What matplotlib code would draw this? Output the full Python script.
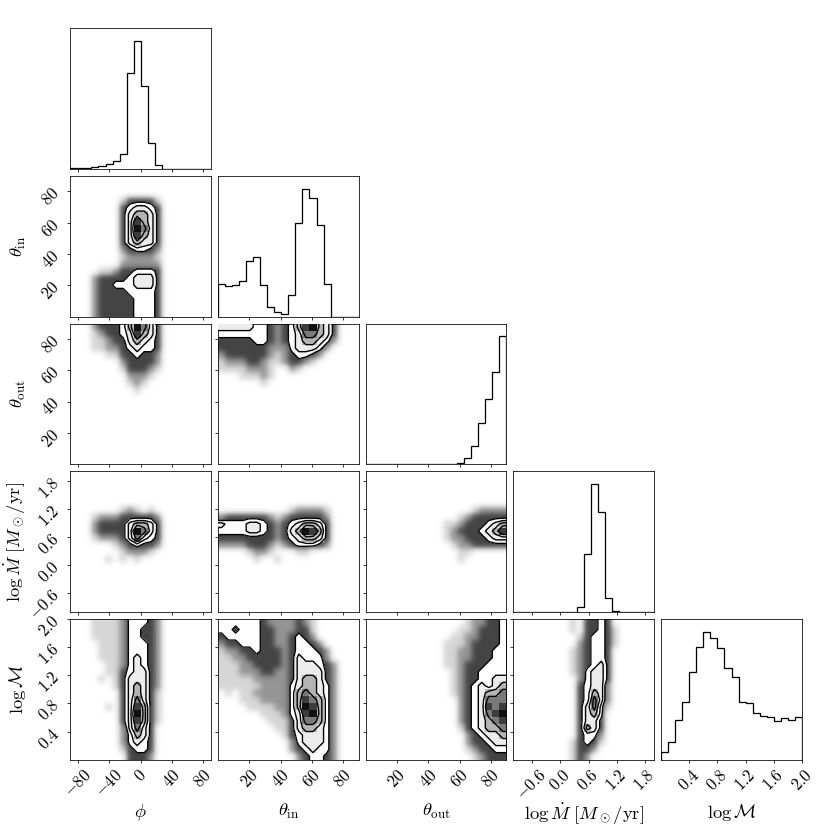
import numpy as np
import matplotlib
matplotlib.use("Agg")
import matplotlib.pyplot as plt
from matplotlib.colors import ListedColormap, BoundaryNorm, LinearSegmentedColormap

plt.rcParams["mathtext.fontset"] = "cm"
plt.rcParams["font.family"] = "serif"
plt.rcParams["font.serif"] = ["DejaVu Serif"]

# parameter names, plot ranges and ticks
labels = [r"$\phi$", r"$\theta_{\rm in}$", r"$\theta_{\rm out}$",
          r"$\log\dot{M}\ [M_\odot/\mathrm{yr}]$", r"$\log\mathcal{M}$"]
ranges = [(-90.0, 90.0), (0.0, 90.0), (0.0, 90.0), (-1.0, 2.0), (0.0, 2.0)]
ticks = [[-80, -40, 0, 40, 80],
         [20, 40, 60, 80],
         [20, 40, 60, 80],
         [-0.6, 0.0, 0.6, 1.2, 1.8],
         [0.4, 0.8, 1.2, 1.6, 2.0]]
tick_labels = [["$-80$", "$-40$", "$0$", "$40$", "$80$"],
               ["$20$", "$40$", "$60$", "$80$"],
               ["$20$", "$40$", "$60$", "$80$"],
               ["$-0.6$", "$0.0$", "$0.6$", "$1.2$", "$1.8$"],
               ["$0.4$", "$0.8$", "$1.2$", "$1.6$", "$2.0$"]]

# 1D marginals, 20 bins each (relative counts)
phi_hist = [0.003, 0.003, 0.005, 0.016, 0.024, 0.04, 0.06, 0.115, 0.75, 1.0,
            0.647, 0.2, 0.026, 0, 0, 0, 0, 0, 0, 0]
thin_hist = [0.252, 0.236, 0.25, 0.278, 0.436, 0.468, 0.25, 0.073, 0.034, 0.018,
             0.166, 0.735, 1.0, 0.925, 0.714, 0.252, 0, 0, 0, 0]
thout_hist = [0, 0, 0, 0, 0, 0, 0, 0, 0, 0,
              0, 0, 0.002, 0.008, 0.05, 0.14, 0.325, 0.51, 0.725, 1.0]
mdot_hist = [0, 0, 0, 0, 0, 0, 0, 0, 0.003, 0.04,
             0.45, 1.0, 0.785, 0.11, 0.005, 0, 0, 0, 0, 0]
logm_hist = [0.06, 0.141, 0.313, 0.452, 0.687, 0.88, 1.0, 0.95, 0.872, 0.72,
             0.65, 0.454, 0.444, 0.366, 0.345, 0.337, 0.305, 0.324, 0.31, 0.33]

# 2D panels, 20x20 bins, top row first. 1-3 = sample cloud (sparse..dense),
# 4 = inside outer contour, 5-9 = inner levels / darker density
phi_thin = [
    "....................",
    "....................",
    "....................",
    ".......133331.......",
    ".......345543.......",
    ".......356653.......",
    ".......358653.......",
    ".......359753.......",
    ".......358653.......",
    ".......356553.......",
    ".......234432.......",
    ".......122221.......",
    ".......222222.......",
    "....112334443.......",
    "...2333345553.......",
    "...2334445553.......",
    "...2333344443.......",
    "...2333334443.......",
    "...2333334443.......",
    "...2333334443.......",
]
phi_thout = [
    "...2333469753.......",
    "...1233458653.......",
    "...1123356543.......",
    "...1122345443.......",
    ".....11334332.......",
    ".......233332.......",
    ".......133321.......",
    "........2221........",
    "........121.........",
    ".........1..........",
    "....................",
    "....................",
    "....................",
    "....................",
    "....................",
    "....................",
    "....................",
    "....................",
    "....................",
    "....................",
]
thin_thout = [
    "55555443234689653...",
    "44444443234577653...",
    "33333443234566542...",
    "3333333222455542....",
    "233333321234432.....",
    "12223321123321......",
    "11112221..21........",
    "...11121............",
    "......1.............",
    "....................",
    "....................",
    "....................",
    "....................",
    "....................",
    "....................",
    "....................",
    "....................",
    "....................",
    "....................",
    "....................",
]
phi_mdot = [
    "....................",
    "....................",
    "....................",
    "....................",
    "....................",
    ".......121.1........",
    "...1222333332.......",
    "...2333356653.......",
    "...2333359753.......",
    "...1222357543.......",
    "......1234332.......",
    ".......12221........",
    ".....1.1.1..........",
    "....................",
    "....................",
    "....................",
    "....................",
    "....................",
    "....................",
    "....................",
]
thin_mdot = [
    "....................",
    "....................",
    "....................",
    "....................",
    "....................",
    "..........122221....",
    "2333333212333332....",
    "5444554323456653....",
    "4444554323569863....",
    "3333333323456653....",
    "2222333212344432....",
    "....1221...11.......",
    ".....1..1...........",
    "....................",
    "....................",
    "....................",
    "....................",
    "....................",
    "....................",
    "....................",
]
thout_mdot = [
    "....................",
    "....................",
    "....................",
    "....................",
    "....................",
    "...............12222",
    ".............1233333",
    "...........112333456",
    "...........123334568",
    "...........122333455",
    "............12233333",
    ".............11.....",
    ".............1......",
    "....................",
    "....................",
    "....................",
    "....................",
    "....................",
    "....................",
    "....................",
]
phi_logm = [
    "...1111244432.......",
    "...1111244332.......",
    "...1111244332.......",
    "....111244432.......",
    "....111244432.......",
    "....111245432.......",
    ".....11245432.......",
    ".....11345532.......",
    "....1.1355532.......",
    "......1356532.......",
    ".......356531.......",
    ".......357531.......",
    ".....1.358631.......",
    ".......359631.......",
    ".......358631.......",
    ".......25753........",
    ".......24653........",
    ".......24543........",
    ".......13443........",
    "........3332........",
]
thin_logm = [
    "44444432222321......",
    "44344433222331......",
    "34444433223432......",
    "233444332234432.....",
    "1223343332344432....",
    "1122333332354442....",
    "11122333323555432...",
    "11122233223555532...",
    "11111222223566532...",
    "11111122224566542...",
    ".1.11222224676542...",
    "...11122224687642...",
    "....1111224698642...",
    "......11124589642...",
    ".......1113577642...",
    "........113566542...",
    ".........13455542...",
    "..........2455542...",
    "..........2345442...",
    "...........234432...",
]
thout_logm = [
    "..............122334",
    ".............1123334",
    "............11223334",
    "...........111233334",
    "...........112233344",
    "...........112233344",
    "...........112333444",
    "............12334444",
    "............12334455",
    "............12345456",
    "............12345667",
    ".............2345777",
    ".............2345878",
    ".............2345789",
    ".............2345678",
    ".............1345667",
    "..............234556",
    "..............233455",
    "..............123344",
    "...............12333",
]
mdot_logm = [
    "........1.3343......",
    "........1.33431.....",
    ".........134431.....",
    ".........234431.....",
    "........123443......",
    "........123443......",
    "........123453......",
    "........124553......",
    ".........24553......",
    ".........34552......",
    ".........34652......",
    ".........34752......",
    ".........35741......",
    ".........3564.......",
    ".........3553.......",
    ".........3653.......",
    ".........3442.......",
    "........13431.......",
    "........1332........",
    "........132.........",
]

hists = [phi_hist, thin_hist, thout_hist, mdot_hist, logm_hist]
panels = {(1, 0): phi_thin,
          (2, 0): phi_thout, (2, 1): thin_thout,
          (3, 0): phi_mdot, (3, 1): thin_mdot, (3, 2): thout_mdot,
          (4, 0): phi_logm, (4, 1): thin_logm, (4, 2): thout_logm, (4, 3): mdot_logm}

cloud_cmap = LinearSegmentedColormap.from_list(
    "cloud", [(0, "white"), (1 / 3, "#d6d6d6"), (2 / 3, "#959595"), (1, "#444444")])
dens_cmap = ListedColormap(["#ececec", "#b4b4b4", "#7a7a7a", "#3c3c3c", "#111111"])
dens_norm = BoundaryNorm([4.5, 5.5, 6.5, 7.5, 8.5, 9.5], 5)


def to_grid(rows):
    return np.array([[0 if c == "." else int(c) for c in r] for r in rows[::-1]], float)


def draw_2d(ax, rows, xr, yr):
    H = to_grid(rows)
    ny, nx = H.shape
    xe = np.linspace(xr[0], xr[1], nx + 1)
    ye = np.linspace(yr[0], yr[1], ny + 1)
    dx = xe[1] - xe[0]
    dy = ye[1] - ye[0]
    # points (cloud)
    ax.imshow(np.clip(H, 0, 3), extent=(xr[0], xr[1], yr[0], yr[1]), origin="lower",
              aspect="auto", cmap=cloud_cmap, vmin=0, vmax=3,
              interpolation="gaussian", interpolation_stage="data", zorder=1)
    # pad so contours run to the axes edge
    Hp = np.pad(H, 1, mode="edge")
    xc = np.concatenate([[xe[0] - dx / 2], 0.5 * (xe[:-1] + xe[1:]), [xe[-1] + dx / 2]])
    yc = np.concatenate([[ye[0] - dy / 2], 0.5 * (ye[:-1] + ye[1:]), [ye[-1] + dy / 2]])
    ax.contourf(xc, yc, Hp, levels=[3.5, 10], colors="white", zorder=2)
    ax.pcolormesh(xe, ye, np.ma.masked_less(H, 5), cmap=dens_cmap, norm=dens_norm, zorder=3)
    ax.contour(xc, yc, Hp, levels=[3.5, 4.5, 5.5, 6.5], colors="k", linewidths=1.4, zorder=4)


fig, axes = plt.subplots(5, 5, figsize=(11.8, 11.8))
fig.subplots_adjust(left=1 / 11.8, bottom=1 / 11.8, right=11.4 / 11.8, top=11.4 / 11.8,
                    wspace=0.05, hspace=0.05)

K = 5
for i in range(K):
    for j in range(K):
        ax = axes[i, j]
        if j > i:
            ax.set_axis_off()
            continue
        if i == j:
            edges = np.linspace(ranges[i][0], ranges[i][1], 21)
            ax.stairs(hists[i], edges, color="k", lw=1.3)
            ax.set_ylim(0, 1.1 * max(hists[i]))
            ax.set_yticks([])
        else:
            draw_2d(ax, panels[(i, j)], ranges[j], ranges[i])
            ax.set_ylim(ranges[i])
            ax.set_yticks(ticks[i])
            if j == 0:
                ax.set_yticklabels(tick_labels[i], rotation=45, fontsize=17)
                ax.set_ylabel(labels[i], fontsize=19)
                ax.yaxis.set_label_coords(-0.3, 0.5)
            else:
                ax.set_yticklabels([])
        ax.set_xlim(ranges[j])
        ax.set_xticks(ticks[j])
        if i == K - 1:
            ax.set_xticklabels(tick_labels[j], rotation=45, fontsize=17)
            ax.set_xlabel(labels[j], fontsize=19)
            ax.xaxis.set_label_coords(0.5, -0.3)
        else:
            ax.set_xticklabels([])

fig.savefig("out.png", dpi=830 / 11.8)
